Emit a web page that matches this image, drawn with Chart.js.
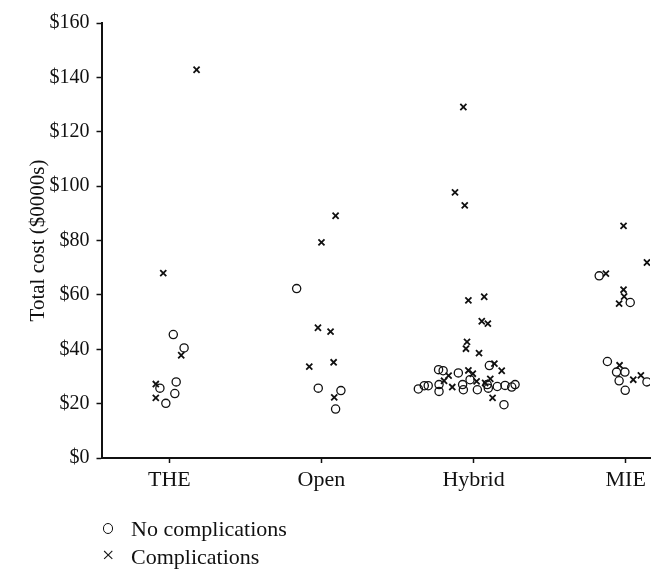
<!DOCTYPE html>
<html><head><meta charset="utf-8">
<script src="https://cdn.jsdelivr.net/npm/chart.js@4"></script>
<style>
html,body{margin:0;padding:0;background:#fff;}
#wrap{position:relative;width:664px;height:583px;overflow:hidden;}
#c{position:absolute;left:0;top:0;}
#legend{position:absolute;left:100px;top:515px;font-family:'Liberation Serif',serif;font-size:22px;line-height:27.6px;color:#111;}
.row{position:relative;padding-left:31px;white-space:nowrap;}
.circ{position:absolute;left:2.5px;top:8px;width:8.5px;height:8.5px;border:1.4px solid #111;border-radius:50%;}
.cross{position:absolute;left:2px;top:-2px;}
</style></head>
<body>
<div id="wrap"><canvas id="c" width="664" height="583"></canvas><div id="legend"></div></div>
<script>
const CATEGORIES = ['THE', 'Open', 'Hybrid', 'MIE'];
const Y_TICKS = [0, 20, 40, 60, 80, 100, 120, 140, 160];
const SERIES_NAMES = ['No complications', 'Complications'];

// No complications: category (1-based), horizontal jitter within category, total cost ($0000s)
const NOCOMP_GROUP  = [1,1,1,1,1,1, 2,2,2,2, 3,3,3,3,3,3,3,3,3,3,3,3,3,3,3,3,3,3,3,3, 4,4,4,4,4,4,4,4];
const NOCOMP_JITTER = [0.026,0.097,0.045,-0.062,0.036,-0.023,
  -0.163,-0.021,0.128,0.093,
  -0.23,-0.20,-0.10,-0.023,0.104,-0.363,-0.324,-0.298,-0.227,-0.227,-0.072,-0.067,0.025,0.09,0.097,0.156,0.207,0.251,0.273,0.2,
  -0.174,0.03,-0.12,-0.06,-0.005,-0.043,0.14,-0.003];
const NOCOMP_COST   = [45.4,40.5,28.0,25.7,23.7,20.1,
  62.3,25.7,24.8,18.0,
  32.5,32.1,31.3,28.8,34.0,25.4,26.6,26.6,27.0,24.5,27.0,25.1,25.1,27.0,25.7,26.3,26.7,26.1,27.0,19.6,
  67.0,57.2,35.5,31.6,31.6,28.4,28.0,24.9];

// Complications
const COMP_GROUP  = [1,1,1,1,1, 2,2,2,2,2,2,2, 3,3,3,3,3,3,3,3,3,3,3,3,3,3,3,3,3,3,3,3,3, 4,4,4,4,4,4,4,4,4];
const COMP_JITTER = [0.179,-0.04,0.078,-0.089,-0.089,
  0.093,0,-0.023,0.06,0.08,-0.08,0.084,
  -0.067,-0.122,-0.058,-0.034,0.07,0.054,0.094,-0.043,-0.05,0.036,0.137,0.185,-0.164,-0.034,-0.005,-0.194,0.02,0.11,0.076,-0.14,0.125,
  -0.014,0.14,-0.13,-0.014,-0.01,-0.043,-0.04,0.05,0.1];
const COMP_COST   = [142.8,68.0,37.8,27.2,22.1,
  89.1,79.3,47.9,46.5,35.2,33.6,22.3,
  129.1,97.7,92.9,58.0,59.3,50.3,49.4,42.7,40.2,38.6,34.7,32.1,30.3,32.2,31.0,28.4,28.2,29.1,27.6,26.1,22.1,
  85.4,71.9,67.8,61.9,59.4,56.8,34.1,28.8,30.4];

const toPoints = (g, j, v) => v.map((y, i) => ({ x: g[i] + j[i], y }));
const FONT = "'Liberation Serif', 'Times New Roman', serif";
const INK = '#111';

new Chart(document.getElementById('c'), {
  type: 'scatter',
  data: {
    datasets: [
      { label: SERIES_NAMES[0], data: toPoints(NOCOMP_GROUP, NOCOMP_JITTER, NOCOMP_COST),
        pointStyle: 'circle', pointRadius: 4.1, pointHoverRadius: 4.1, borderWidth: 1.3,
        borderColor: INK, backgroundColor: 'rgba(0,0,0,0)' },
      { label: SERIES_NAMES[1], data: toPoints(COMP_GROUP, COMP_JITTER, COMP_COST),
        pointStyle: 'crossRot', pointRadius: 4.3, pointHoverRadius: 4.3, borderWidth: 1.8,
        borderColor: INK, backgroundColor: INK }
    ]
  },
  options: {
    responsive: false, animation: false,
    layout: { padding: { top: 23, right: 14, left: 0, bottom: 0 } },
    plugins: { legend: { display: false }, tooltip: { enabled: false } },
    scales: {
      x: {
        type: 'linear', min: 0.554, max: 4.16,
        afterFit: s => { s.height = 125; },
        afterBuildTicks: s => { s.ticks = CATEGORIES.map((c, i) => ({ value: i + 1 })); },
        ticks: { color: INK, font: { family: FONT, size: 22 }, padding: 4,
                 callback: v => CATEGORIES[v - 1] || '' },
        grid: { drawOnChartArea: false, drawTicks: true, tickLength: 5, tickColor: INK, tickWidth: 1.5 },
        border: { display: true, color: INK, width: 2 }
      },
      y: {
        min: 0, max: 160,
        afterFit: s => { s.width = 101.5; },
        afterBuildTicks: s => { s.ticks = Y_TICKS.map(v => ({ value: v })); },
        ticks: { color: INK, font: { family: FONT, size: 20 }, padding: 7,
                 callback: v => '$' + v },
        grid: { drawOnChartArea: false, drawTicks: true, tickLength: 5, tickColor: INK, tickWidth: 1.5 },
        border: { display: true, color: INK, width: 2 },
        title: { display: true, text: 'Total cost ($0000s)', color: INK,
                 font: { family: FONT, size: 21 }, padding: { top: 26, bottom: 0 } }
      }
    }
  }
});

const legend = document.getElementById('legend');
SERIES_NAMES.forEach((name, i) => {
  const row = document.createElement('div');
  row.className = 'row';
  const sym = document.createElement('span');
  if (i === 0) { sym.className = 'circ'; } else { sym.className = 'cross'; sym.textContent = '×'; }
  row.appendChild(sym);
  row.appendChild(document.createTextNode(name));
  legend.appendChild(row);
});
</script>
</body></html>
